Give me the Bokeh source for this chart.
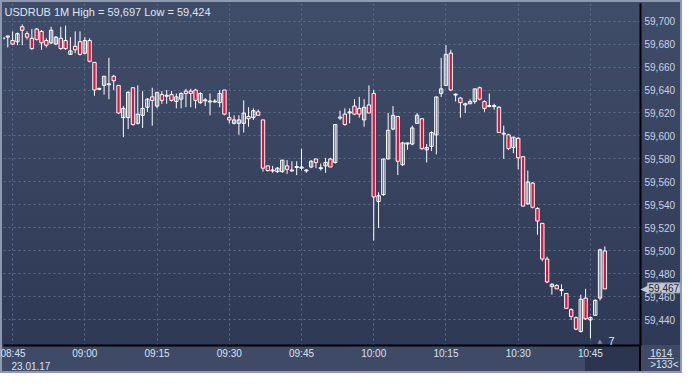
from bokeh.plotting import figure
from bokeh.models import ColumnDataSource, FixedTicker, Range1d, Label, Title
from bokeh.embed import file_html
from bokeh.resources import INLINE

# ---------------- data ----------------
title_text = "USDRUB 1M High = 59,697 Low = 59,424"
start_time = "08:43"          # time of the first 1-minute candle
date_label = "23.01.17"

opens = [59.685, 59.686, 59.683, 59.682, 59.695, 59.689, 59.685, 59.693, 59.691, 59.683,
         59.681, 59.680, 59.685, 59.683, 59.671, 59.678, 59.682, 59.672, 59.683, 59.664,
         59.641, 59.644, 59.645, 59.652, 59.644, 59.616, 59.616, 59.642, 59.611, 59.618,
         59.625, 59.634, 59.626, 59.636, 59.635, 59.636, 59.630, 59.632, 59.639, 59.639,
         59.640, 59.629, 59.631, 59.630, 59.630, 59.629, 59.640, 59.616, 59.611, 59.611,
         59.611, 59.617, 59.616, 59.621, 59.614, 59.574, 59.570, 59.569, 59.569, 59.574,
         59.570, 59.573, 59.572, 59.570, 59.573, 59.580, 59.572, 59.574, 59.580, 59.577,
         59.616, 59.619, 59.620, 59.626, 59.624, 59.614, 59.627, 59.637, 59.543, 59.549,
         59.580, 59.606, 59.617, 59.575, 59.593, 59.593, 59.611, 59.615, 59.588, 59.591,
         59.601, 59.637, 59.644, 59.672, 59.636, 59.633, 59.627, 59.628, 59.630, 59.642,
         59.630, 59.626, 59.626, 59.625, 59.602, 59.601, 59.590, 59.598, 59.582, 59.541,
         59.559, 59.537, 59.524, 59.493, 59.469, 59.470, 59.466, 59.463, 59.449, 59.442,
         59.430, 59.459, 59.440, 59.444, 59.459, 59.500]
highs = [59.686, 59.687, 59.691, 59.690, 59.697, 59.691, 59.693, 59.694, 59.692, 59.685,
         59.695, 59.687, 59.695, 59.696, 59.686, 59.691, 59.691, 59.686, 59.685, 59.664,
         59.642, 59.652, 59.668, 59.653, 59.644, 59.626, 59.639, 59.642, 59.644, 59.639,
         59.633, 59.642, 59.638, 59.639, 59.640, 59.639, 59.637, 59.638, 59.641, 59.641,
         59.641, 59.638, 59.633, 59.637, 59.632, 59.640, 59.640, 59.621, 59.618, 59.618,
         59.631, 59.625, 59.624, 59.623, 59.614, 59.574, 59.574, 59.573, 59.579, 59.579,
         59.578, 59.578, 59.589, 59.571, 59.579, 59.580, 59.576, 59.581, 59.581, 59.610,
         59.622, 59.624, 59.624, 59.632, 59.634, 59.632, 59.644, 59.640, 59.551, 59.580,
         59.620, 59.626, 59.617, 59.595, 59.594, 59.609, 59.620, 59.615, 59.593, 59.604,
         59.634, 59.668, 59.679, 59.675, 59.637, 59.634, 59.629, 59.632, 59.641, 59.643,
         59.631, 59.637, 59.628, 59.626, 59.609, 59.602, 59.599, 59.599, 59.582, 59.570,
         59.560, 59.538, 59.524, 59.495, 59.472, 59.471, 59.471, 59.463, 59.450, 59.443,
         59.462, 59.467, 59.443, 59.458, 59.502, 59.504]
lows = [59.684, 59.677, 59.679, 59.679, 59.679, 59.684, 59.675, 59.683, 59.675, 59.677,
        59.680, 59.679, 59.675, 59.675, 59.671, 59.672, 59.670, 59.671, 59.664, 59.635,
        59.640, 59.636, 59.632, 59.640, 59.619, 59.599, 59.606, 59.609, 59.610, 59.607,
        59.621, 59.609, 59.624, 59.628, 59.628, 59.630, 59.624, 59.624, 59.625, 59.625,
        59.624, 59.628, 59.626, 59.618, 59.629, 59.625, 59.618, 59.611, 59.610, 59.601,
        59.603, 59.608, 59.614, 59.618, 59.569, 59.569, 59.568, 59.568, 59.568, 59.567,
        59.569, 59.566, 59.570, 59.568, 59.572, 59.572, 59.570, 59.568, 59.573, 59.576,
        59.614, 59.609, 59.611, 59.618, 59.616, 59.608, 59.620, 59.509, 59.520, 59.548,
        59.580, 59.605, 59.566, 59.574, 59.588, 59.592, 59.611, 59.588, 59.577, 59.587,
        59.584, 59.634, 59.644, 59.639, 59.630, 59.616, 59.620, 59.628, 59.628, 59.631,
        59.621, 59.625, 59.623, 59.603, 59.580, 59.588, 59.585, 59.571, 59.539, 59.540,
        59.537, 59.514, 59.491, 59.472, 59.462, 59.467, 59.461, 59.450, 59.440, 59.431,
        59.429, 59.440, 59.424, 59.444, 59.457, 59.467]
closes = [59.685, 59.687, 59.680, 59.689, 59.692, 59.686, 59.676, 59.684, 59.681, 59.679,
          59.692, 59.686, 59.676, 59.676, 59.674, 59.675, 59.671, 59.683, 59.665, 59.640,
          59.641, 59.652, 59.645, 59.648, 59.620, 59.624, 59.638, 59.610, 59.619, 59.624,
          59.632, 59.631, 59.638, 59.631, 59.635, 59.631, 59.634, 59.637, 59.637, 59.637,
          59.631, 59.637, 59.631, 59.630, 59.630, 59.637, 59.619, 59.614, 59.614, 59.614,
          59.620, 59.615, 59.622, 59.618, 59.572, 59.570, 59.570, 59.572, 59.579, 59.571,
          59.570, 59.573, 59.573, 59.570, 59.578, 59.577, 59.572, 59.577, 59.573, 59.610,
          59.616, 59.610, 59.621, 59.619, 59.619, 59.625, 59.620, 59.547, 59.548, 59.580,
          59.605, 59.618, 59.578, 59.594, 59.594, 59.607, 59.618, 59.589, 59.590, 59.603,
          59.634, 59.641, 59.671, 59.640, 59.636, 59.629, 59.628, 59.630, 59.641, 59.632,
          59.624, 59.626, 59.626, 59.603, 59.602, 59.589, 59.599, 59.581, 59.539, 59.560,
          59.538, 59.526, 59.493, 59.473, 59.471, 59.467, 59.466, 59.450, 59.443, 59.432,
          59.458, 59.441, 59.442, 59.457, 59.501, 59.467]

price_ticks = [59.44, 59.46, 59.48, 59.50, 59.52, 59.54, 59.56, 59.58,
               59.60, 59.62, 59.64, 59.66, 59.68, 59.70]
price_tick_labels = ["59,440", "59,460", "59,480", "59,500", "59,520", "59,540", "59,560",
                     "59,580", "59,600", "59,620", "59,640", "59,660", "59,680", "59,700"]
time_ticks = ["08:45", "09:00", "09:15", "09:30", "09:45", "10:00", "10:15", "10:30", "10:45"]
last_price_label = "59,467"
footer_text = "1614\n>133<"
marker_count = "7"

# ---------------- helpers ----------------
def to_min(s):
    h, m = s.split(":")
    return int(h) * 60 + int(m)

t0 = to_min(start_time)
xs = [t0 + i for i in range(len(opens))]
eps = 0.0004
tops, bottoms, alphas = [], [], []
for o, c in zip(opens, closes):
    hi, lo = max(o, c), min(o, c)
    if hi - lo < 2 * eps:
        mid = (hi + lo) / 2
        hi, lo = mid + eps, mid - eps
    tops.append(hi)
    bottoms.append(lo)
    alphas.append(1.0 if c < o else 0.0)

src = ColumnDataSource(dict(x=xs, h=highs, l=lows, top=tops, bottom=bottoms, fa=alphas))

W, H = 682, 373
BL, BR, BT, BB = 3, 42, 3, 28
x0, x1 = t0 + 0.11, t0 + 132.4
y0, y1 = 59.41775, 59.71525
frame_w = W - BL - BR
frame_h = H - BT - BB

p = figure(width=W, height=H, output_backend="svg", toolbar_location=None,
           x_range=Range1d(x0, x1), y_range=Range1d(y0, y1),
           y_axis_location="right",
           min_border_left=BL, min_border_right=BR, min_border_top=BT, min_border_bottom=BB)

p.background_fill_alpha = 0
p.border_fill_alpha = 0
p.outline_line_color = None

fb = H - BB  # frame bottom in figure pixels
p.styles = {
    "background-image": (
        "linear-gradient(#c3cbd8,#c3cbd8), "
        "linear-gradient(#000,#000), "
        "linear-gradient(#2b3550,#2b3550), "
        f"linear-gradient(to bottom, #404d69 0px, #2e3955 {fb}px, #3e4a66 {fb}px, #3e4a66 100%)"
    ),
    "background-size": f"26px 1px, 2px {BB}px, 55px 26px, 100% 100%",
    "background-position": f"{W - 34}px {fb + 13}px, {W - BR - 1}px {fb}px, {W - BR - 55}px {fb + 1}px, 0 0",
    "background-repeat": "no-repeat",
    "box-shadow": "inset 0 0 0 2px #8c99ae",
}

xt = [to_min(t) for t in time_ticks]
xa = p.xaxis[0]
ya = p.yaxis[0]
xa.ticker = FixedTicker(ticks=xt)
xa.major_label_overrides = {v: t for v, t in zip(xt, time_ticks)}
ya.ticker = FixedTicker(ticks=price_ticks)
ya.major_label_overrides = {v: t for v, t in zip(price_ticks, price_tick_labels)}
for ax in (xa, ya):
    ax.axis_line_color = "black"
    ax.axis_line_width = 2
    ax.major_tick_line_color = None
    ax.minor_tick_line_color = None
    ax.major_tick_out = 0
    ax.major_tick_in = 0
    ax.major_label_text_font = "Liberation Sans"
    ax.major_label_text_font_size = "10px"
xa.major_label_standoff = 2
ya.major_label_standoff = 4
xa.major_label_text_color = "#d9e2f0"
ya.major_label_text_color = "#c7d2e5"

p.xgrid.ticker = FixedTicker(ticks=xt)
p.ygrid.ticker = FixedTicker(ticks=price_ticks)
for g in (p.xgrid[0], p.ygrid[0]):
    g.grid_line_color = "#5d6c88"
    g.grid_line_dash = "2 3"
    g.grid_line_width = 1

# candles
p.segment(x0="x", y0="h", x1="x", y1="l", source=src, line_color="white", line_width=1)
p.vbar(x="x", width=0.7, top="top", bottom="bottom", source=src,
       fill_color="#e3123d", fill_alpha="fa", line_color="white", line_width=1)

# texts inside the frame
px_x = (x1 - x0) / frame_w
px_y = (y1 - y0) / frame_h
p.add_layout(Label(x=x0 + 1 * px_x, y=y1 - 2 * px_y, text=title_text,
                   text_font="Liberation Sans", text_font_size="11px",
                   text_color="#dfe6f1", text_baseline="top", text_align="left"))
p.add_layout(Label(x=x0 + 605 * px_x, y=y0 + 1 * px_y, text=marker_count,
                   text_font="Liberation Sans", text_font_size="11px",
                   text_color="#dfe6f1", text_baseline="bottom", text_align="left"))
p.add_layout(Label(x=x0 + 594 * px_x, y=y0 + 2 * px_y, text="▲",
                   text_font="DejaVu Sans", text_font_size="6px",
                   text_color="#7f8ca3", text_baseline="bottom", text_align="left"))

# texts outside the frame: titles stacked under the x axis, with negative
# standoffs so that they take (almost) no room and sit where the reference has them
TH = 11                       # estimated height of one 10px text line
ya_bottom = fb + 2 + TH       # bottom of the x-axis panel
def title(text, align, offset, want_top, top, th, **kw):
    s = 2 * (want_top - top)
    opts = dict(text_font="Liberation Sans", text_font_size="10px",
                text_font_style="normal", text_color="#d9e2f0")
    opts.update(kw)
    t = Title(text=text, align=align, offset=offset, vertical_align="top", standoff=s, **opts)
    p.add_layout(t, "below")
    return top + max(0, 2 + th + s)   # panel sizes never go below zero

price_fig_y = BT + (y1 - closes[-1]) / px_y
top = ya_bottom
top = title(footer_text, "right", -38, fb - 1, top, 2 * TH + 1)
top = title(date_label, "left", 8, fb + 13, top, TH)
top = title(last_price_label, "left", frame_w + 7, price_fig_y - 6, top, TH + 2,
            text_color="#1b2333", background_fill_color="#c4c9d2",
            border_line_color="#98a1b0", padding=1)
top = title("◀", "left", frame_w, price_fig_y - 6, top, TH,
            text_font="DejaVu Sans", text_color="#c4c9d2")

open("out.html", "w").write(file_html(p, INLINE))
